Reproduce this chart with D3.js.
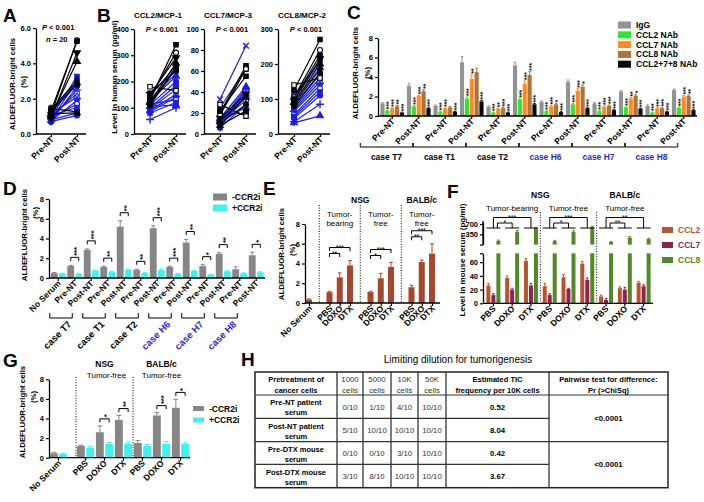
<!DOCTYPE html>
<html><head><meta charset="utf-8">
<script src="https://cdn.jsdelivr.net/npm/d3@7/dist/d3.min.js"></script>
<style>html,body{margin:0;padding:0;background:#fff;overflow:hidden}svg{display:block}</style>
</head><body>
<script>
// ================= DATA =================
const pairLabels = ["Pre-NT", "Post-NT"];
// Panel A / B – 20 patients (colour & marker per patient)
const patientColor = ["k","k","k","k","k","k","k","k","b","b","b","b","b","b","b","b","b","b","b","b"];
const patientShape = ["sqO","sq","circO","sq","triD","tri","dia","circ","sq","x","tri","circ","plus","sqO","triO","dia","circO","sq","tri","circ"];
const aPre  = [1.45,1.15,1.1,1.3,0.9,1.0,1.4,1.25,0.95,0.8,1.3,0.7,0.85,1.0,1.15,0.75,0.9,1.05,0.8,0.7];
const aPost = [1.25,1.2,5.3,5.25,4.6,4.1,3.0,2.8,3.25,3.0,2.9,2.7,2.5,2.3,2.1,1.9,1.7,1.5,1.2,1.05];
const aTicks = [0,2,4,6];
const bTitles = ["CCL2/MCP-1","CCL7/MCP-3","CCL8/MCP-2"];
const bTicks = [[0,100,200,300,400],[0,20,40,60,80,100],[0,100,200,300]];
const ccl2Pre  = [180,155,140,130,150,120,115,110,145,135,125,110,55,95,90,85,115,80,105,100];
const ccl2Post = [165,240,310,340,290,270,255,250,260,230,220,200,100,170,150,140,130,120,110,185];
const ccl7Pre  = [28,20,18,22,15,12,10,8,25,33,15,12,10,9,8,7,12,6,14,18];
const ccl7Post = [17,65,62,55,38,35,28,22,62,84,45,43,42,40,38,36,32,28,25,20];
const ccl8Pre  = [140,125,105,100,95,90,85,80,110,100,90,80,35,75,70,65,55,50,32,45];
const ccl8Post = [160,270,240,225,215,200,185,175,210,205,190,170,85,160,150,140,130,120,52,110];

// Panel C
const cCases = ["case T7","case T1","case T2","case H6","case H7","case H8"];
const caseColor = ["k","k","k","b","b","b"];
const cSeries = ["IgG","CCL2 NAb","CCL7 NAb","CCL8 NAb","CCL2+7+8 NAb"];
const cIgG  = [1.3,3.1,1.05,5.5,0.95,5.2,1.45,3.5,1.3,2.5,1.05,2.65];
const cCCL2 = [0.55,1.0,0.45,1.8,0.35,1.7,0.5,1.2,0.5,0.9,0.35,0.85];
const cCCL7 = [0.8,2.05,0.8,3.8,0.75,3.3,1.0,2.6,0.95,1.8,0.8,2.0];
const cCCL8 = [1.0,2.55,0.9,4.5,0.8,4.2,1.2,3.0,1.05,2.1,0.8,2.05];
const cAll  = [0.35,0.8,0.45,1.5,0.35,1.2,0.4,0.8,0.6,0.75,0.45,0.6];
const cIgGErr  = [0.1,0.2,0.08,0.6,0.08,0.3,0.1,0.2,0.1,0.1,0.1,0.12];
const cCCL2Err = [0.05,0.05,0.05,0.15,0.05,0.1,0.05,0.08,0.05,0.05,0.05,0.05];
const cCCL7Err = [0.05,0.08,0.05,0.45,0.05,0.3,0.08,0.2,0.08,0.1,0.05,0.1];
const cCCL8Err = [0.08,0.15,0.08,0.4,0.08,0.35,0.1,0.2,0.08,0.12,0.06,0.1];
const cAllErr  = [0.04,0.05,0.04,0.1,0.04,0.08,0.04,0.05,0.04,0.05,0.04,0.05];
const cSigCCL2 = ["***","***","***","***","***","***","***","***","***","***","***","***"];
const cSigCCL7 = ["***","***","***","**","**","***","***","***","***","**","***","***"];
const cSigCCL8 = ["**","**","","","***","***","*","*","***","*","***","**"];
const cSigAll  = ["***","***","***","***","***","***","***","***","***","***","***","***"];
const cTicks = [0,2,4,6,8];

// Panel D
const dCats = ["No Serum","Pre-NT","Post-NT","Pre-NT","Post-NT","Pre-NT","Post-NT","Pre-NT","Post-NT","Pre-NT","Post-NT","Pre-NT","Post-NT"];
const ccr2Labels = ["-CCR2i","+CCR2i"];
const dMinus    = [0.5,1.22,2.85,1.12,5.2,0.82,5.05,1.12,3.6,1.2,2.45,0.88,2.3];
const dMinusErr = [0.05,0.06,0.1,0.08,0.6,0.06,0.25,0.08,0.3,0.15,0.12,0.25,0.3];
const dPlus     = [0.45,0.4,0.75,0.6,0.82,0.5,0.8,0.4,0.72,0.35,0.68,0.48,0.58];
const dPlusErr  = [0.03,0.03,0.05,0.05,0.06,0.04,0.12,0.04,0.06,0.03,0.05,0.04,0.05];
const dSig = ["","***","***","**","**","**","***","***","**","*","**","","*"];

// Panel E
const eCats = ["No Serum","PBS","DOXO","DTX","PBS","DOXO","DTX","PBS","DOXO","DTX"];
const eVals = [0.35,1.1,2.6,3.8,1.1,2.5,3.65,1.6,4.15,5.0];
const eErr  = [0.06,0.08,0.45,0.5,0.08,0.5,0.45,0.2,0.2,1.0];
const eCohorts = [["Tumor-","bearing"],["Tumor-","free"],["Tumor-","free"]];
const eSig = [["**","***"],["*","***"],["**","***"]];
const strains = ["NSG","BALB/c"];

// Panel F
const fCats = ["PBS","DOXO","DTX","PBS","DOXO","DTX","PBS","DOXO","DTX"];
const fSeries = ["CCL2","CCL7","CCL8"];
const fCCL2 = [26,37,62,25,38,58,10,22,30];
const fCCL2Err = [3,3,3,4,4,3,2,2,2];
const fCCL7 = [12,20,26,12,21,34,5,20,25];
const fCCL7Err = [2,2,3,2,1,3,2,3,2];
const fCCL8 = [130,440,560,120,440,600,90,240,190];
const fCCL8Err = [25,40,25,25,45,25,15,35,25];
const fCohorts = ["Tumor-bearing","Tumor-free","Tumor-free"];
const fSig = [["*","***"],["*","***"],["**","**"]];
const fLowTicks = [0,20,40,60];
const fHighTicks = [0,350,700];

// Panel G
const gCats = ["No Serum","PBS","DOXO","DTX","PBS","DOXO","DTX"];
const gMinus    = [0.45,1.2,2.6,3.85,1.5,4.3,5.1];
const gMinusErr = [0.1,0.08,0.65,0.45,0.25,0.3,0.85];
const gPlus     = [0.4,1.0,1.4,1.45,1.2,1.4,1.4];
const gPlusErr  = [0.06,0.12,0.15,0.15,0.15,0.25,0.12];
const gSig = ["","","*","**","","***","*"];

// Panel H
const hTitle = "Limiting dilution for tumorigenesis";
const hHeaders = [["Pretreatment of","cancer cells"],["1000","cells"],["5000","cells"],["10K","cells"],["50K","cells"],["Estimated TIC","frequency per 10K cells"],["Pairwise test for difference:","Pr (>ChiSq)"]];
const hRowLabels = [["Pre-NT  patient","serum"],["Post-NT patient","serum"],["Pre-DTX mouse","serum"],["Post-DTX mouse","serum"]];
const hCounts = [["0/10","1/10","4/10","10/10"],["5/10","10/10","10/10","10/10"],["0/10","0/10","3/10","10/10"],["3/10","8/10","10/10","10/10"]];
const hTIC = ["0.52","8.04","0.42","3.67"];
const hPair = ["<0.0001","<0.0001"];

// ================= STYLE =================
const FONT = '"Liberation Sans", Arial, Helvetica, sans-serif';
const BLUE = "#1c1ce8", CASEBLUE = "#2a2ae0";
const GRAY = "#868686", CYAN = "#3ef2f2";
const cFill = ["#929292","#2ee82e","#ff8a1e","#b07236","#050505"];
const eFill = "#a6472b";
const fFill = ["#b9542c","#941f52","#4f8a24"];

const svg = d3.select("body").append("svg").attr("width",704).attr("height",502)
  .style("font-family",FONT);
svg.append("rect").attr("width",704).attr("height",502).attr("fill","#fff");

// ================= HELPERS =================
function txt(g,x,y,s,o={}){
  const t=g.append("text").attr("x",x).attr("y",y).text(s)
    .attr("font-size",o.size||8).attr("font-weight",o.bold?"bold":"normal")
    .attr("text-anchor",o.anchor||"middle").attr("fill",o.fill||"#000");
  if(o.italic) t.attr("font-style","italic");
  return t;
}
function vlab(g,x,y,s,size,bold){
  g.append("text").attr("transform",`translate(${x},${y}) rotate(-90)`).attr("text-anchor","middle")
   .attr("font-size",size).attr("font-weight",bold?"bold":"normal").attr("fill","#000").text(s);
}
function letter(s,x,y){ txt(svg,x,y,s,{size:19,bold:true,anchor:"start"}); }
function axisL(g,scale,x,ticks,fmt){
  const a=d3.axisLeft(scale).tickValues(ticks).tickSize(3).tickPadding(2).tickSizeOuter(0);
  if(fmt) a.tickFormat(fmt);
  const ax=g.append("g").attr("transform",`translate(${x},0)`).call(a).attr("font-family",FONT);
  ax.select(".domain").attr("stroke","#000").attr("stroke-width",1.3);
  ax.selectAll(".tick line").attr("stroke","#000").attr("stroke-width",1.2);
  ax.selectAll(".tick text").attr("font-size",7.5).attr("font-weight","bold").attr("fill","#000");
  return ax;
}
function line(g,x1,y1,x2,y2,w,c){
  return g.append("line").attr("x1",x1).attr("y1",y1).attr("x2",x2).attr("y2",y2)
   .attr("stroke",c||"#000").attr("stroke-width",w||1.3);
}
function styleXText(ax,size){
  ax.selectAll(".tick line").attr("stroke","#000").attr("stroke-width",1.2);
  ax.selectAll(".tick text").attr("x",0).attr("y",0).attr("dy",0)
    .attr("transform","translate(3,6) rotate(-45)").attr("text-anchor","end")
    .attr("font-size",size||8.5).attr("font-weight","bold").attr("fill","#000");
}
function xAxisB(g,scale,y,x0,x1,tickVals,fmt,size){
  const a=d3.axisBottom(scale).tickSize(3).tickSizeOuter(0);
  if(tickVals) a.tickValues(tickVals);
  if(fmt) a.tickFormat(fmt);
  const ax=g.append("g").attr("transform",`translate(0,${y})`).call(a).attr("font-family",FONT);
  ax.select(".domain").remove();
  styleXText(ax,size);
  line(g,x0,y,x1,y,1.3);
  return ax;
}
const shapeSpec={sq:{t:d3.symbolSquare,f:1},sqO:{t:d3.symbolSquare,f:0},circ:{t:d3.symbolCircle,f:1},
  circO:{t:d3.symbolCircle,f:0},tri:{t:d3.symbolTriangle,f:1},triO:{t:d3.symbolTriangle,f:0},
  triD:{t:d3.symbolTriangle,f:1,r:180},dia:{t:d3.symbolDiamond,f:1},
  x:{t:d3.symbolTimes||d3.symbolCross,f:0,s:1,r:d3.symbolTimes?0:45},plus:{t:d3.symbolPlus||d3.symbolCross,f:0,s:1}};
function pcol(i){ return patientColor[i]==="k"?"#000":BLUE; }
function drawPairs(g,x,y,pre,post){
  const idx=d3.range(pre.length).sort((a,b)=>(patientColor[a]==="k")-(patientColor[b]==="k"));
  g.selectAll(null).data(idx).enter().append("line")
   .attr("x1",x(pairLabels[0])).attr("x2",x(pairLabels[1]))
   .attr("y1",i=>y(pre[i])).attr("y2",i=>y(post[i]))
   .attr("stroke",pcol).attr("stroke-width",1.2);
  [pre,post].forEach((arr,k)=>{
    g.selectAll(null).data(idx).enter().append("path")
     .attr("transform",i=>`translate(${x(pairLabels[k])},${y(arr[i])}) rotate(${shapeSpec[patientShape[i]].r||0})`)
     .attr("d",i=>{const sp=shapeSpec[patientShape[i]]; return d3.symbol(sp.t, sp.s?22:20)();})
     .attr("fill",i=>{const sp=shapeSpec[patientShape[i]]; return sp.s?"none":(sp.f?pcol(i):"#fff");})
     .attr("stroke",pcol).attr("stroke-width",i=>shapeSpec[patientShape[i]].s?1.4:1.1);
  });
}
function bars(g,n,xf,w,vals,errs,y,fill,errColor){
  const d=d3.range(n).filter(i=>vals[i]>0);
  g.selectAll(null).data(d).enter().append("rect")
   .attr("x",i=>xf(i)-w/2).attr("width",w).attr("y",i=>y(vals[i]))
   .attr("height",i=>y(0)-y(vals[i])).attr("fill",fill);
  if(errs){
    const e=g.selectAll(null).data(d.filter(i=>errs[i]>0)).enter();
    const ec=errColor||fill;
    e.append("line").attr("x1",xf).attr("x2",xf).attr("y1",i=>y(vals[i])).attr("y2",i=>y(vals[i]+errs[i]))
     .attr("stroke",ec).attr("stroke-width",1);
    e.append("line").attr("x1",i=>xf(i)-w*0.3).attr("x2",i=>xf(i)+w*0.3)
     .attr("y1",i=>y(vals[i]+errs[i])).attr("y2",i=>y(vals[i]+errs[i])).attr("stroke",ec).attr("stroke-width",1);
  }
}
function vstars(g,x,y,s,size){
  if(!s) return;
  g.append("text").attr("transform",`translate(${x+size*0.6},${y}) rotate(-90)`)
   .attr("font-size",size).attr("font-weight","bold").attr("fill","#000").attr("text-anchor","start").text(s);
}
function pairBracket(g,x1,x2,y,s){
  g.append("path").attr("d",`M${x1},${y+3.5}V${y}H${x2}V${y+3.5}`).attr("fill","none").attr("stroke","#000").attr("stroke-width",1);
  vstars(g,(x1+x2)/2,y-1.5,s,7.5);
}
function hBracket(g,x1,x2,y,drop,s){
  g.append("path").attr("d",`M${x1},${y+drop}V${y}H${x2}V${y+drop}`).attr("fill","none").attr("stroke","#000").attr("stroke-width",1);
  txt(g,(x1+x2)/2,y+2,s,{size:7});
}
function caseBracket(g,x1,x2,y,h){
  g.append("path").attr("d",`M${x1},${y-h}V${y}H${x2}V${y-h}`).attr("fill","none").attr("stroke","#000").attr("stroke-width",1);
}
function legend(g,x,y,dy,w,h,labels,fills,textFills,size){
  labels.forEach((l,i)=>{
    g.append("rect").attr("x",x).attr("y",y+i*dy-h/2).attr("width",w).attr("height",h).attr("fill",fills[i]);
    txt(g,x+w+5,y+i*dy+3,l,{size:size||8.5,bold:true,anchor:"start",fill:textFills?textFills[i]:"#000"});
  });
}

// ================= PANEL A =================
letter("A",3,22);
const gA=svg.append("g");
const aY=d3.scaleLinear().domain([0,6]).range([134,28]);
const aX=d3.scalePoint().domain(pairLabels).range([51,77]);
axisL(gA,aY,36,aTicks);
xAxisB(gA,aX,134,36,86);
drawPairs(gA,aX,aY,aPre,aPost);
vlab(gA,15,84,"ALDEFLUOR-bright cells",7.8,true);
vlab(gA,26,82,"(%)",7.8,true);
const pa=txt(gA,42,30,"",{size:7.5,anchor:"start",bold:true});
pa.append("tspan").attr("font-style","italic").text("P");
pa.append("tspan").text(" < 0.001");
const na=txt(gA,46,42,"",{size:7.5,anchor:"start",bold:true});
na.append("tspan").attr("font-style","italic").text("n");
na.append("tspan").text(" = 20");

// ================= PANEL B =================
letter("B",97,22);
const gB=svg.append("g");
vlab(gB,117,77,"Level in human serum (pg/ml)",8,true);
const bPanels=[{pre:ccl2Pre,post:ccl2Post},{pre:ccl7Pre,post:ccl7Post},{pre:ccl8Pre,post:ccl8Post}];
const bAxisX=[134,204,278];
bPanels.forEach((p,k)=>{
  const x0=bAxisX[k];
  const y=d3.scaleLinear().domain([0,d3.max(bTicks[k])]).range([134,29]);
  const x=d3.scalePoint().domain(pairLabels).range([x0+16,x0+42]);
  axisL(gB,y,x0,bTicks[k]);
  xAxisB(gB,x,134,x0,x0+52);
  drawPairs(gB,x,y,p.pre,p.post);
  txt(gB,x0+24,18,bTitles[k],{size:8,bold:true});
  const t=txt(gB,x0+28,32,"",{size:7.5,bold:true});
  t.append("tspan").attr("font-style","italic").text("P");
  t.append("tspan").text(" < 0.001");
});

// ================= PANEL C =================
letter("C",347,19);
const gC=svg.append("g");
const cGroups=cCases.flatMap(c=>pairLabels.map(p=>c+"|"+p));
const cX=d3.scaleBand().domain(cGroups).range([379,697]);
const cIn=d3.scaleBand().domain(cSeries).range([0,cX.bandwidth()]).paddingInner(0.15).paddingOuter(0.3);
const cY=d3.scaleLinear().domain([0,8]).range([116,38]);
axisL(gC,cY,378,cTicks);
const cAxG=gC.append("g").attr("transform","translate(0,116)")
  .call(d3.axisBottom(cX).tickSize(3).tickSizeOuter(0).tickFormat(d=>d.split("|")[1])).attr("font-family",FONT);
cAxG.select(".domain").remove();
styleXText(cAxG,8.5);
const cVals=[cIgG,cCCL2,cCCL7,cCCL8,cAll], cErrs=[cIgGErr,cCCL2Err,cCCL7Err,cCCL8Err,cAllErr];
const cSigs=[null,cSigCCL2,cSigCCL7,cSigCCL8,cSigAll];
cSeries.forEach((s,si)=>{
  const xf=i=>cX(cGroups[i])+cIn(s)+cIn.bandwidth()/2;
  bars(gC,cGroups.length,xf,cIn.bandwidth(),cVals[si],cErrs[si],cY,cFill[si]);
  if(cSigs[si]) cGroups.forEach((g,i)=>vstars(gC,xf(i),cY(cVals[si][i]+cErrs[si][i])-1,cSigs[si][i],6.5));
});
line(gC,378,116,697,116,1.3);
cCases.forEach((c,k)=>{
  const pre=cX(c+"|Pre-NT")+cX.bandwidth()/2, post=cX(c+"|Post-NT")+cX.bandwidth()/2;
  const x1=pre-32, x2=post-6;
  caseBracket(gC,x1,x2,147,4);
  txt(gC,(x1+x2)/2,160,c,{size:8.5,bold:true,fill:caseColor[k]==="k"?"#000":CASEBLUE});
});
vlab(gC,358,73,"ALDEFLUOR-bright cells",7.8,true);
vlab(gC,370,73,"(%)",7.8,true);
legend(gC,618,25,9.8,13,7,cSeries,cFill,null,8.5);

// ================= PANEL D =================
letter("D",3,195);
const gD=svg.append("g");
const dX=d3.scaleBand().domain(d3.range(dCats.length)).range([50,264.5]);
const dIn=d3.scaleBand().domain(ccr2Labels).range([0,dX.bandwidth()]).paddingInner(0.15).paddingOuter(0.1);
const dY=d3.scaleLinear().domain([0,8]).range([278,199]);
axisL(gD,dY,49,cTicks);
const dXg=i=>dX(i)+dIn("-CCR2i")+dIn.bandwidth()/2, dXc=i=>dX(i)+dIn("+CCR2i")+dIn.bandwidth()/2;
bars(gD,dCats.length,dXg,dIn.bandwidth(),dMinus,dMinusErr,dY,GRAY);
bars(gD,dCats.length,dXc,dIn.bandwidth(),dPlus,dPlusErr,dY,CYAN);
xAxisB(gD,dX,278,49,265,null,i=>dCats[i]);
dSig.forEach((s,i)=>{ if(s) pairBracket(gD,dXg(i),dXc(i),dY(dMinus[i]+dMinusErr[i])-8,s); });
cCases.forEach((c,k)=>{
  const pre=dX(1+2*k)+dX.bandwidth()/2, post=dX(2+2*k)+dX.bandwidth()/2;
  const x1=pre-25, x2=post-19;
  caseBracket(gD,x1,x2,318,5);
  gD.append("text").attr("transform",`translate(${(x1+x2)/2+11},325) rotate(-45)`)
    .attr("text-anchor","end").attr("font-size",9.5).attr("font-weight","bold")
    .attr("fill",caseColor[k]==="k"?"#000":CASEBLUE).text(c);
});
vlab(gD,27,235,"ALDEFLUOR-bright cells",7.8,true);
vlab(gD,38,213,"(%)",7.8,true);
legend(gD,213,197,11,14,7,ccr2Labels,[GRAY,CYAN],null,8.5);

// ================= PANEL E =================
letter("E",263,195);
const gE=svg.append("g");
const eSlots=["ns","s0","a0","a1","a2","s1","b0","b1","b2","s2","c0","c1","c2"];
const eBarSlots=eSlots.filter(s=>s[0]!=="s");
const eX=d3.scalePoint().domain(eSlots).range([309,432]);
const eY=d3.scaleLinear().domain([0,8]).range([303,224]);
axisL(gE,eY,305,cTicks);
bars(gE,eCats.length,i=>eX(eBarSlots[i]),6,eVals,eErr,eY,eFill);
xAxisB(gE,eX,303,305,440,eBarSlots,s=>eCats[eBarSlots.indexOf(s)]);
["s0","s1","s2"].forEach(s=>line(gE,eX(s),205,eX(s),303,1,"#000").attr("stroke-dasharray","1,1.6"));
txt(gE,eX("s1"),203,strains[0],{size:8.5,bold:true});
txt(gE,eX("c1"),203,strains[1],{size:8.5,bold:true});
["a","b","c"].forEach((p,k)=>{
  txt(gE,eX(p+"1"),217,eCohorts[k][0],{size:8});
  txt(gE,eX(p+"1"),226,eCohorts[k][1],{size:8});
  const top=d3.min([0,1,2],j=>eY(eVals[1+k*3+j]+eErr[1+k*3+j]));
  hBracket(gE,eX(p+"0"),eX(p+"1"),top-7,3.5,eSig[k][0]);
  hBracket(gE,eX(p+"0"),eX(p+"2"),top-13,3.5,eSig[k][1]);
});
vlab(gE,284,254,"ALDEFLUOR-bright cells",7.8,true);
vlab(gE,295,250,"(%)",7.8,true);

// ================= PANEL F =================
letter("F",447,198);
const gF=svg.append("g");
const fX=d3.scaleBand().domain(d3.range(fCats.length)).range([484,653]);
const fIn=d3.scaleBand().domain(fSeries).range([2.4,fX.bandwidth()-2.4]).paddingInner(0.2);
const fLo=d3.scaleLinear().domain([0,73]).range([303.3,253.3]);
const fHi=d3.scaleLinear().domain([0,760]).range([244.6,222.3]);
axisL(gF,fLo,483,fLowTicks.concat([73]),d=>d===73?"":d);
axisL(gF,fHi,483,fHighTicks,d=>d===0?"":d);
line(gF,483,244.6,483,221,1.3);
const fVals=[fCCL2,fCCL7,fCCL8], fErrs=[fCCL2Err,fCCL7Err,fCCL8Err];
fSeries.forEach((s,si)=>{
  const xf=i=>fX(i)+fIn(s)+fIn.bandwidth()/2;
  const lowVals=fVals[si].map(v=>Math.min(v,73));
  const lowErr=fVals[si].map((v,i)=>v<73?fErrs[si][i]:0);
  bars(gF,fCats.length,xf,fIn.bandwidth(),lowVals,lowErr,fLo,fFill[si]);
  const hiVals=fVals[si].map(v=>v>73?v:0), hiErr=fVals[si].map((v,i)=>v>73?fErrs[si][i]:0);
  bars(gF,fCats.length,xf,fIn.bandwidth(),hiVals,hiErr,fHi,fFill[si]);
});
xAxisB(gF,fX,303.3,483,653,null,i=>fCats[i]);
[3,6].forEach(i=>line(gF,fX(i),212,fX(i),303,1,"#000").attr("stroke-dasharray","1,1.6"));
txt(gF,fX(3),198,strains[0],{size:8.5,bold:true});
txt(gF,fX(7)+fX.bandwidth()/2,198,strains[1],{size:8.5,bold:true});
fCohorts.forEach((c,k)=>{
  const cc=j=>fX(k*3+j)+fX.bandwidth()/2;
  txt(gF,cc(1),211,c,{size:8});
  [0,1,2].forEach(j=>line(gF,cc(j)-7,228,cc(j)+7,228,1));
  hBracket(gF,cc(0),cc(2),217.5,10.5,fSig[k][1]);
  hBracket(gF,cc(0)+4,cc(1),223,5,fSig[k][0]);
});
vlab(gF,465,260,"Level in mouse serum (pg/ml)",8,true);
legend(gF,662,230,15,11,6,fSeries,fFill,fFill,8.5);

// ================= PANEL G =================
letter("G",3,367);
const gG=svg.append("g");
const gNs=d3.scaleBand().domain([gCats[0]]).range([49,68]);
const gTr=d3.scaleBand().domain(d3.range(1,gCats.length)).range([76,190]);
const gPos=i=>i===0?gNs(gCats[0]):gTr(i);
const gIn=d3.scaleBand().domain(ccr2Labels).range([0,19]).paddingInner(0.15).paddingOuter(0.1);
const gY=d3.scaleLinear().domain([0,8]).range([457.7,379.3]);
axisL(gG,gY,49,cTicks);
const gXg=i=>gPos(i)+gIn("-CCR2i")+gIn.bandwidth()/2, gXc=i=>gPos(i)+gIn("+CCR2i")+gIn.bandwidth()/2;
bars(gG,gCats.length,gXg,gIn.bandwidth(),gMinus,gMinusErr,gY,GRAY);
bars(gG,gCats.length,gXc,gIn.bandwidth(),gPlus,gPlusErr,gY,CYAN);
{
  const ax=gG.append("g").attr("transform","translate(0,457.7)").attr("font-family",FONT);
  ax.append("g").call(d3.axisBottom(gNs).tickSize(3).tickSizeOuter(0));
  ax.append("g").call(d3.axisBottom(gTr).tickSize(3).tickSizeOuter(0).tickFormat(i=>gCats[i]));
  ax.selectAll(".domain").remove();
  styleXText(ax,8.5);
  line(gG,49,457.7,190,457.7,1.3);
}
[76,gTr(4)].forEach(x=>line(gG,x,377,x,457,1,"#000").attr("stroke-dasharray","1,1.6"));
gSig.forEach((s,i)=>{ if(s) pairBracket(gG,gXg(i),gXc(i),gY(gMinus[i]+gMinusErr[i])-7,s); });
const gMidA=gTr(2)+gTr.bandwidth()/2, gMidB=gTr(5)+gTr.bandwidth()/2;
txt(gG,gMidA,367,strains[0],{size:8.5,bold:true});
txt(gG,gMidA+2,378,"Tumor-free",{size:8});
txt(gG,gMidB,367,strains[1],{size:8.5,bold:true});
txt(gG,gMidB,378,"Tumor-free",{size:8});
vlab(gG,24.5,412,"ALDEFLUOR-bright cells",7.8,true);
vlab(gG,35.5,397,"(%)",7.8,true);
legend(gG,193,408.5,11.5,11,5,ccr2Labels,[GRAY,CYAN],null,8.5);

// ================= PANEL H =================
letter("H",241,366);
const gH=svg.append("g");
const hColX=[255,337,363,391,418,446,549,668];
const hRowY=[372,395,418.3,441.7,464.3,487.7];
txt(gH,458,363,hTitle,{size:10});
gH.append("rect").attr("x",hColX[0]).attr("y",hRowY[0]).attr("width",hColX[7]-hColX[0]).attr("height",hRowY[5]-hRowY[0])
  .attr("fill","none").attr("stroke","#222").attr("stroke-width",1.5);
hColX.slice(1,7).forEach(x=>line(gH,x,hRowY[0],x,hRowY[5],1.3,"#333"));
hRowY.slice(1,5).forEach((y,i)=>line(gH,hColX[0],y,(i%2===1)?hColX[6]:hColX[7],y,1.2,"#333"));
const colC=i=>(hColX[i]+hColX[i+1])/2;
hHeaders.forEach((h,i)=>{
  const b=(i===0||i>=5);
  txt(gH,colC(i),382,h[0],{size:b?7.5:7.8,bold:b,fill:b?"#000":"#333"});
  txt(gH,colC(i),392.5,h[1],{size:b?7.5:7.8,bold:b,fill:b?"#000":"#333"});
});
hRowLabels.forEach((r,k)=>{
  const yc=(hRowY[k+1]+hRowY[k+2])/2;
  txt(gH,colC(0),yc-1.5,r[0],{size:7.5,bold:true});
  txt(gH,colC(0),yc+8.5,r[1],{size:7.5,bold:true});
  hCounts[k].forEach((v,j)=>txt(gH,colC(j+1),yc+3,v,{size:7.8,fill:"#333"}));
  txt(gH,colC(5),yc+3,hTIC[k],{size:7.8,bold:true});
});
hPair.forEach((p,k)=>txt(gH,colC(6),hRowY[2+2*k]+3,p,{size:7.8,bold:true}));
</script>
</body></html>
